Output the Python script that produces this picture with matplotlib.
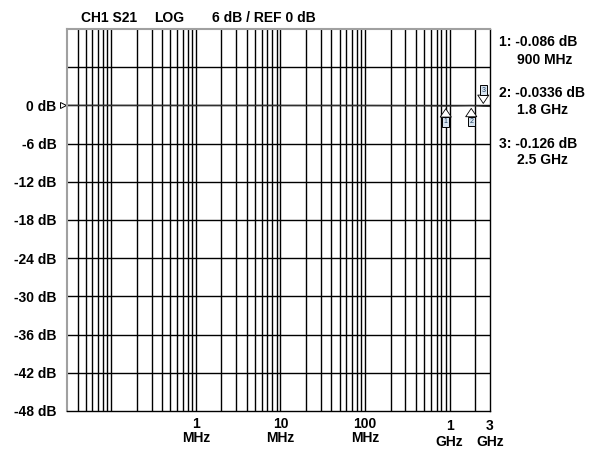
import numpy as np
import matplotlib
matplotlib.use('Agg')
import matplotlib.pyplot as plt
from matplotlib.transforms import blended_transform_factory

plt.rcParams['font.family'] = ['Liberation Sans', 'DejaVu Sans']
plt.rcParams['font.weight'] = 'bold'

# trace data (S21, dB vs Hz)
freq_hz = [30e3, 100e3, 1e6, 10e6, 100e6, 500e6, 900e6, 1.3e9, 1.8e9, 2.2e9, 2.5e9, 3e9]
s21_db = [0.0, 0.0, -0.01, -0.01, -0.02, -0.05, -0.086, -0.06, -0.0336, -0.08, -0.126, -0.15]

# markers
marker_freq = [900e6, 1.8e9, 2.5e9]
marker_db = [-0.086, -0.0336, -0.126]
marker_names = ['1', '2', '3']
marker_vals = ['-0.086 dB', '-0.0336 dB', '-0.126 dB']
marker_freq_txt = ['900 MHz', '1.8 GHz', '2.5 GHz']

# axis settings
f_start, f_stop = 30e3, 3e9
db_top, db_bottom, db_div = 12, -48, 6
ytick_vals = list(range(0, -49, -6))
xtick_freqs = [1e6, 10e6, 100e6, 1e9, 3e9]
xtick_nums = ['1', '10', '100', '1', '3']
xtick_units = ['MHz', 'MHz', 'MHz', 'GHz', 'GHz']

FS = 10
W, H = 603, 451
fig = plt.figure(figsize=(W / 100, H / 100), dpi=100)


def fx(px):
    return px / W


def fy(py):
    return 1 - py / H


ax = fig.add_axes([fx(67), fy(411), fx(490) - fx(67), fy(29) - fy(411)])
ax.set_xscale('log')
ax.set_xlim(f_start, f_stop)
ax.set_ylim(db_bottom, db_top)

# grid: every 1..9 within each decade
grid_f = []
for dec in range(4, 10):
    for m in range(1, 10):
        f = m * 10.0 ** dec
        if f_start < f < f_stop:
            grid_f.append(f)
for f in grid_f:
    ax.axvline(f, color='black', lw=1.0, zorder=1)
for d in range(db_bottom + db_div, db_top, db_div):
    ax.axhline(d, color='black', lw=1.0, zorder=1)

for side in ['top', 'left']:
    ax.spines[side].set_color('#a0a0a0')
    ax.spines[side].set_linewidth(1.5)
for side in ['bottom', 'right']:
    ax.spines[side].set_color('black')
    ax.spines[side].set_linewidth(1.0)

ax.set_xticks([])
ax.set_xticks([], minor=True)
ax.set_yticks(ytick_vals)
ax.set_yticklabels(['%d dB' % v for v in ytick_vals], fontsize=FS, fontweight='bold')
ax.tick_params(axis='y', length=0, pad=7.5)

# trace
ax.plot(freq_hz, s21_db, color='#303030', lw=1.0, zorder=2)

# reference marker
ax.plot([-0.01], [0], marker='>', ms=4.5, mfc='white', mec='black', mew=0.7,
        transform=ax.get_yaxis_transform(), clip_on=False)

# marker arrows
for f, d, name in zip(marker_freq, marker_db, marker_names):
    sgn = 1 if name == '3' else -1
    ax.annotate('', xy=(f, d), xycoords='data',
                xytext=(0, sgn * 8), textcoords='offset points',
                arrowprops=dict(arrowstyle='simple,head_width=0.8,head_length=0.6,tail_width=0.3',
                                fc='white', ec='black', lw=0.6),
                zorder=4)
    ax.annotate(name, xy=(f, d), xycoords='data',
                xytext=(0, sgn * 11.5), textcoords='offset points',
                ha='center', va='center', fontsize=5, fontweight='normal',
                color='#204060',
                bbox=dict(boxstyle='square,pad=0.2', fc='#d8e4f0', ec='black', lw=0.7),
                zorder=5)

# x tick labels
tr = blended_transform_factory(ax.transData, fig.transFigure)
for f, n, u in zip(xtick_freqs, xtick_nums, xtick_units):
    if u == 'GHz':
        y1, y2 = 426, 441.5
    else:
        y1, y2 = 424.5, 438.5
    ax.text(f, fy(y1), n, transform=tr, ha='center', va='center', fontsize=FS, fontweight='bold')
    ax.text(f, fy(y2), u, transform=tr, ha='center', va='center', fontsize=FS, fontweight='bold')

# header
fig.text(fx(81), fy(17.5), 'CH1 S21', ha='left', va='center', fontsize=FS, fontweight='bold')
fig.text(fx(154), fy(17.5), 'LOG', ha='left', va='center', fontsize=FS, fontweight='bold')
fig.text(fx(212), fy(17.5), '6 dB / REF 0 dB', ha='left', va='center', fontsize=FS, fontweight='bold')

# marker readout
rows = [(42.5, 60), (93, 110.5), (144.5, 160)]
for (y1, y2), name, v, ft in zip(rows, marker_names, marker_vals, marker_freq_txt):
    fig.text(fx(499), fy(y1), '%s: %s' % (name, v), ha='left', va='center', fontsize=FS, fontweight='bold')
    fig.text(fx(517), fy(y2), ft, ha='left', va='center', fontsize=FS, fontweight='bold')

fig.savefig('out.png', dpi=100)
